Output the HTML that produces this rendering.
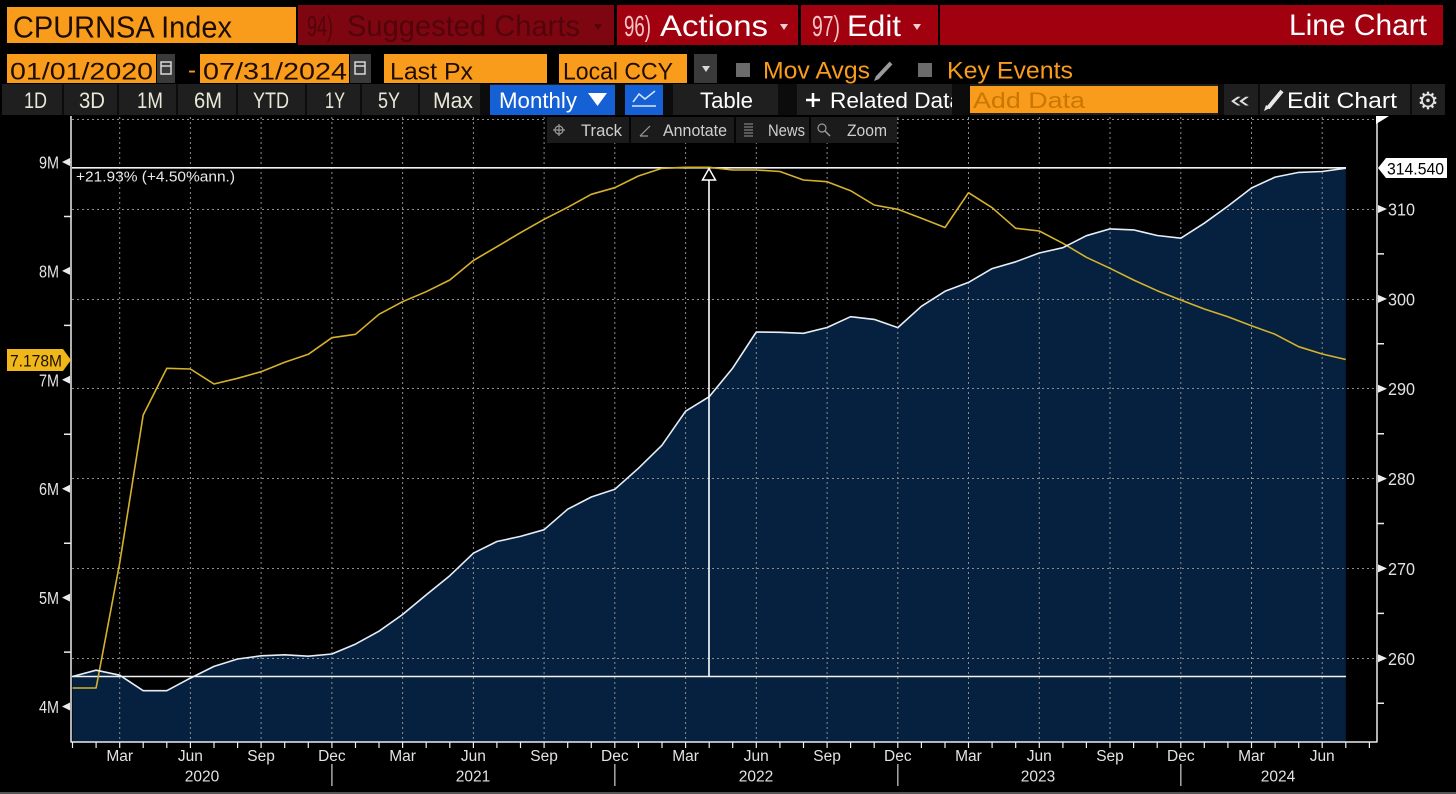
<!DOCTYPE html>
<html><head><meta charset="utf-8"><style>
html,body{margin:0;padding:0;background:#000;width:1456px;height:794px;overflow:hidden}
svg{display:block}
text{font-family:"Liberation Sans",sans-serif}
</style></head><body>
<svg width="1456" height="794" viewBox="0 0 1456 794" xmlns="http://www.w3.org/2000/svg">
<rect x="0" y="0" width="1456" height="794" fill="#000"/>

<!-- ROW 1 -->
<rect x="7" y="7" width="289" height="36" fill="#f99c1c"/>
<text x="13" y="37.5" font-size="31" fill="#1a0d00" textLength="219" lengthAdjust="spacingAndGlyphs">CPURNSA Index</text>
<rect x="298" y="5" width="316" height="40" fill="#7e0610"/>
<text x="307" y="36" font-size="29" fill="#52040b" textLength="26" lengthAdjust="spacingAndGlyphs">94)</text>
<text x="347" y="36" font-size="30" fill="#52040b" textLength="233" lengthAdjust="spacingAndGlyphs">Suggested Charts</text>
<polygon points="594,24 602,24 598,30" fill="#52040b"/>
<rect x="617" y="5" width="181" height="40" fill="#a1000f"/>
<text x="624" y="36" font-size="29" fill="#f3c6c6" textLength="27" lengthAdjust="spacingAndGlyphs">96)</text>
<text x="660" y="36" font-size="30" fill="#ffffff" textLength="108" lengthAdjust="spacingAndGlyphs">Actions</text>
<polygon points="780,24 788,24 784,30" fill="#f0d0d0"/>
<rect x="801" y="5" width="137" height="40" fill="#a1000f"/>
<text x="812" y="36" font-size="29" fill="#f3c6c6" textLength="28" lengthAdjust="spacingAndGlyphs">97)</text>
<text x="847" y="36" font-size="30" fill="#ffffff" textLength="54" lengthAdjust="spacingAndGlyphs">Edit</text>
<polygon points="913,24 921,24 917,30" fill="#f0d0d0"/>
<rect x="940" y="5" width="503" height="40" fill="#a1000f"/>
<text x="1289" y="35" font-size="30" fill="#ffffff" textLength="138" lengthAdjust="spacingAndGlyphs">Line Chart</text>

<!-- ROW 2 -->
<rect x="7" y="54" width="149" height="29" fill="#f99c1c"/>
<text x="10" y="79.5" font-size="24" fill="#1f0e00" textLength="143" lengthAdjust="spacingAndGlyphs">01/01/2020</text>
<rect x="157" y="54" width="18" height="29" fill="#3a3a3a"/>
<rect x="161" y="62" width="10" height="12" fill="none" stroke="#d8d8d8" stroke-width="1.5"/>
<line x1="161" y1="66" x2="171" y2="66" stroke="#d8d8d8" stroke-width="1.5"/>
<text x="188" y="78" font-size="24" fill="#f99c1c">-</text>
<rect x="200" y="54" width="149" height="29" fill="#f99c1c"/>
<text x="203" y="79.5" font-size="24" fill="#1f0e00" textLength="144" lengthAdjust="spacingAndGlyphs">07/31/2024</text>
<rect x="350" y="54" width="21" height="29" fill="#3a3a3a"/>
<rect x="355" y="62" width="10" height="12" fill="none" stroke="#d8d8d8" stroke-width="1.5"/>
<line x1="355" y1="66" x2="365" y2="66" stroke="#d8d8d8" stroke-width="1.5"/>
<rect x="384" y="54" width="163" height="29" fill="#f99c1c"/>
<text x="390" y="79.5" font-size="24" fill="#1f0e00" textLength="83" lengthAdjust="spacingAndGlyphs">Last Px</text>
<rect x="559" y="54" width="128" height="29" fill="#f99c1c"/>
<text x="563" y="79.5" font-size="24" fill="#1f0e00" textLength="110" lengthAdjust="spacingAndGlyphs">Local CCY</text>
<rect x="694" y="54" width="23" height="29" fill="#3a3a3a"/>
<polygon points="702,66 710,66 706,72" fill="#d8d8d8"/>
<rect x="736" y="63" width="14" height="14" fill="#6b6b6b"/>
<text x="763" y="78.5" font-size="24" fill="#f99c1c" textLength="107" lengthAdjust="spacingAndGlyphs">Mov Avgs</text>
<path d="M877 78 L891 63" stroke="#9a9a9a" stroke-width="4"/>
<polygon points="874,81 876,76 879,79" fill="#9a9a9a"/>
<rect x="918" y="63" width="14" height="14" fill="#6b6b6b"/>
<text x="947" y="78.5" font-size="24" fill="#f99c1c" textLength="126" lengthAdjust="spacingAndGlyphs">Key Events</text>

<!-- ROW 3 -->
<rect x="2" y="84" width="1443" height="31" fill="#1f1f1f"/>
<g fill="#0c0c0c">
<rect x="62" y="84" width="2" height="31"/><rect x="117" y="84" width="2" height="31"/>
<rect x="176" y="84" width="2" height="31"/><rect x="236" y="84" width="2" height="31"/>
<rect x="305" y="84" width="2" height="31"/><rect x="360" y="84" width="2" height="31"/>
<rect x="418" y="84" width="2" height="31"/><rect x="480" y="84" width="10" height="31"/>
<rect x="615" y="84" width="10" height="31"/><rect x="663" y="84" width="10" height="31"/>
<rect x="778" y="84" width="19" height="31"/><rect x="952" y="84" width="18" height="31"/>
<rect x="1218" y="84" width="6" height="31"/><rect x="1258" y="84" width="2" height="31"/>
<rect x="1410" y="84" width="2" height="31"/>
</g>
<g font-size="22" fill="#e8e8d8">
<text x="24" y="108" textLength="23" lengthAdjust="spacingAndGlyphs">1D</text>
<text x="79" y="108" textLength="26" lengthAdjust="spacingAndGlyphs">3D</text>
<text x="137" y="108" textLength="26" lengthAdjust="spacingAndGlyphs">1M</text>
<text x="194" y="108" textLength="28" lengthAdjust="spacingAndGlyphs">6M</text>
<text x="253" y="108" textLength="36" lengthAdjust="spacingAndGlyphs">YTD</text>
<text x="325" y="108" textLength="20" lengthAdjust="spacingAndGlyphs">1Y</text>
<text x="378" y="108" textLength="22" lengthAdjust="spacingAndGlyphs">5Y</text>
<text x="433" y="108" textLength="40" lengthAdjust="spacingAndGlyphs">Max</text>
</g>
<rect x="490" y="85" width="125" height="30" fill="#1560d4"/>
<text x="499" y="108" font-size="22" fill="#ffffff" textLength="78" lengthAdjust="spacingAndGlyphs">Monthly</text>
<polygon points="588,93 607,93 597.5,106" fill="#ffffff"/>
<rect x="625" y="85" width="38" height="30" fill="#1560d4"/>
<path d="M633 102 L639 94 L645 99 L655 91" stroke="#d8e6ff" stroke-width="1.5" fill="none"/>
<path d="M632 106 H656" stroke="#d8e6ff" stroke-width="1.5"/>
<text x="700" y="108" font-size="22" fill="#ffffff" textLength="53" lengthAdjust="spacingAndGlyphs">Table</text>
<path d="M806 100 H820 M813 93 V107" stroke="#ffffff" stroke-width="2.5"/>
<text x="830" y="108" font-size="22" fill="#ffffff" textLength="132" lengthAdjust="spacingAndGlyphs" clip-path="url(#clipRel)">Related Data</text>
<defs><clipPath id="clipRel"><rect x="797" y="84" width="155" height="31"/></clipPath></defs>
<rect x="970" y="86" width="248" height="27" fill="#f99c1c"/>
<text x="973" y="108" font-size="22" fill="#c97700" textLength="112" lengthAdjust="spacingAndGlyphs">Add Data</text>
<text x="1230" y="107" font-size="22" fill="#e0e0e0" textLength="20" lengthAdjust="spacingAndGlyphs">«</text>
<path d="M1268 108 L1282 91" stroke="#e8e8e8" stroke-width="4"/>
<polygon points="1264,111 1266,105 1270,108" fill="#e8e8e8"/>
<text x="1287" y="108" font-size="22" fill="#ffffff" textLength="110" lengthAdjust="spacingAndGlyphs">Edit Chart</text>
<text x="1428" y="109" font-size="24" fill="#e0e0e0" text-anchor="middle" style="font-family:'DejaVu Sans',sans-serif">⚙</text>

<!-- PLOT FILL -->
<polygon fill="#05213f" points="72.5,742 72.5,676.5 96.1,670.2 119.7,675.2 143.2,690.7 166.8,690.7 190.4,678.1 214,666.4 237.6,659 261.1,655.8 284.7,654.8 308.3,656.2 331.9,654 355.5,644.1 379,631.2 402.6,614.5 426.2,594.9 449.8,575.7 473.4,553.2 496.9,541.5 520.5,536.4 544.1,529.7 567.7,509.2 591.3,497 614.8,489.3 638.4,468.3 662,445.2 685.6,411.2 709.2,396.7 732.7,368.1 756.3,332 779.9,332.3 803.5,333.3 827.1,327.5 850.6,316.7 874.2,319.4 897.8,327.6 921.4,306.3 945,291.3 968.5,282.4 992.1,268.6 1015.7,261.8 1039.3,253 1062.9,247.7 1086.4,235.7 1110,228.9 1133.6,229.9 1157.2,235.5 1180.8,238.2 1204.3,223.2 1227.9,206.1 1251.5,188 1275.1,177.1 1298.7,172.4 1322.2,171.5 1345.8,168.2 1345.8,742"/>

<!-- GRID -->
<g stroke="#8e8e8e" stroke-width="1" stroke-dasharray="2,3" fill="none">
<path d="M72 119.5H1376M72 209.5H1376M72 299.5H1376M72 388.5H1376M72 478.5H1376M72 568.5H1376M72 658.5H1376"/>
<path d="M119.7 117V742M190.4 117V742M261.1 117V742M331.9 117V742M402.6 117V742M473.4 117V742M544.1 117V742M614.8 117V742M685.6 117V742M756.3 117V742M827.1 117V742M897.8 117V742M968.5 117V742M1039.3 117V742M1110 117V742M1180.8 117V742M1251.5 117V742M1322.2 117V742"/>
</g>

<!-- mini toolbar -->
<rect x="547" y="117" width="350" height="26" fill="#1b1b1b"/>
<rect x="629" y="117" width="2" height="26" fill="#050505"/>
<rect x="734" y="117" width="2" height="26" fill="#050505"/>
<rect x="809" y="117" width="2" height="26" fill="#050505"/>
<circle cx="559" cy="130" r="4" fill="none" stroke="#9a9a9a" stroke-width="1.2"/>
<path d="M553 130H565M559 124V136" stroke="#9a9a9a" stroke-width="1.2"/>
<text x="581" y="136" font-size="17" fill="#cfcfcf" textLength="41" lengthAdjust="spacingAndGlyphs">Track</text>
<path d="M640 136L650 126M640 136H648" stroke="#9a9a9a" stroke-width="1.2"/>
<text x="663" y="136" font-size="17" fill="#cfcfcf" textLength="64" lengthAdjust="spacingAndGlyphs">Annotate</text>
<path d="M744 124H753M744 127H753M744 130H753M744 133H753M744 136H753" stroke="#9a9a9a" stroke-width="1"/>
<text x="768" y="136" font-size="17" fill="#cfcfcf" textLength="37" lengthAdjust="spacingAndGlyphs">News</text>
<circle cx="822" cy="128" r="4" fill="none" stroke="#9a9a9a" stroke-width="1.2"/>
<path d="M825 131L830 136" stroke="#9a9a9a" stroke-width="1.5"/>
<text x="847" y="136" font-size="17" fill="#cfcfcf" textLength="40" lengthAdjust="spacingAndGlyphs">Zoom</text>

<!-- reference lines -->
<path d="M72 167.8H1346M72 676.5H1346" stroke="#f2f2f2" stroke-width="1.6"/>

<!-- yellow series -->
<polyline fill="none" stroke="#d6b22c" stroke-width="1.6" stroke-linejoin="round" points="72.5,688 96.1,688 119.7,563 143.2,415 166.8,368.3 190.4,369 214,384 237.6,378.3 261.1,371.7 284.7,362.3 308.3,354.3 331.9,337.7 355.5,334.3 379,314.3 402.6,301.7 426.2,291.7 449.8,280 473.4,260.5 496.9,246.7 520.5,232.7 544.1,219.3 567.7,207.3 591.3,194.3 614.8,187.7 638.4,176 662,168.3 685.6,167.3 709.2,167.3 732.7,170 756.3,170 779.9,171.5 803.5,180 827.1,181.7 850.6,190.7 874.2,205 897.8,209.3 921.4,218.3 945,227.5 968.5,192.7 992.1,207.7 1015.7,228.3 1039.3,231 1062.9,243.3 1086.4,257.3 1110,268.3 1133.6,280 1157.2,290.7 1180.8,300 1204.3,309 1227.9,316.7 1251.5,325.7 1275.1,334.3 1298.7,346.7 1322.2,354 1345.8,359.5"/>

<!-- white series -->
<polyline fill="none" stroke="#e6edf5" stroke-width="1.6" stroke-linejoin="round" points="72.5,676.5 96.1,670.2 119.7,675.2 143.2,690.7 166.8,690.7 190.4,678.1 214,666.4 237.6,659 261.1,655.8 284.7,654.8 308.3,656.2 331.9,654 355.5,644.1 379,631.2 402.6,614.5 426.2,594.9 449.8,575.7 473.4,553.2 496.9,541.5 520.5,536.4 544.1,529.7 567.7,509.2 591.3,497 614.8,489.3 638.4,468.3 662,445.2 685.6,411.2 709.2,396.7 732.7,368.1 756.3,332 779.9,332.3 803.5,333.3 827.1,327.5 850.6,316.7 874.2,319.4 897.8,327.6 921.4,306.3 945,291.3 968.5,282.4 992.1,268.6 1015.7,261.8 1039.3,253 1062.9,247.7 1086.4,235.7 1110,228.9 1133.6,229.9 1157.2,235.5 1180.8,238.2 1204.3,223.2 1227.9,206.1 1251.5,188 1275.1,177.1 1298.7,172.4 1322.2,171.5 1345.8,168.2"/>

<!-- arrow -->
<line x1="709" y1="180" x2="709" y2="676.5" stroke="#ffffff" stroke-width="1.6"/>
<polygon points="709,168.5 702.5,180 715.5,180" fill="#000" stroke="#ffffff" stroke-width="1.5"/>

<text x="76" y="181.5" font-size="15" fill="#e8e8e8" textLength="159" lengthAdjust="spacingAndGlyphs">+21.93% (+4.50%ann.)</text>

<!-- AXES -->
<g stroke="#ececec" stroke-width="1.5" fill="none">
<path d="M71 116V742.5M1377 116V742.5M71 742H1377"/>
<path d="M64 216.5H71M64 325.4H71M64 434.3H71M64 543.2H71M64 652.1H71"/>
<path d="M1377 253.9H1384M1377 343.8H1384M1377 433.7H1384M1377 523.5H1384M1377 613.4H1384M1377 703.2H1384"/>
<path stroke-width="1.2" d="M72.5 742v6 M96.1 742v6 M119.7 742v6 M143.2 742v6 M166.8 742v6 M190.4 742v6 M214 742v6 M237.6 742v6 M261.1 742v6 M284.7 742v6 M308.3 742v6 M331.9 742v6 M355.5 742v6 M379 742v6 M402.6 742v6 M426.2 742v6 M449.8 742v6 M473.4 742v6 M496.9 742v6 M520.5 742v6 M544.1 742v6 M567.7 742v6 M591.3 742v6 M614.8 742v6 M638.4 742v6 M662 742v6 M685.6 742v6 M709.2 742v6 M732.7 742v6 M756.3 742v6 M779.9 742v6 M803.5 742v6 M827.1 742v6 M850.6 742v6 M874.2 742v6 M897.8 742v6 M921.4 742v6 M945 742v6 M968.5 742v6 M992.1 742v6 M1015.7 742v6 M1039.3 742v6 M1062.9 742v6 M1086.4 742v6 M1110 742v6 M1133.6 742v6 M1157.2 742v6 M1180.8 742v6 M1204.3 742v6 M1227.9 742v6 M1251.5 742v6 M1275.1 742v6 M1298.7 742v6 M1322.2 742v6 M1345.8 742v6 M1369.4 742v6"/>
</g>
<polygon points="1376,116 1389,116 1381,121 1376,124" fill="#ffffff"/>
<!-- left wedges -->
<g fill="#ececec">
<polygon points="62,162 70,158 70,166"/><polygon points="62,270.9 70,266.9 70,274.9"/>
<polygon points="62,379.8 70,375.8 70,383.8"/><polygon points="62,488.7 70,484.7 70,492.7"/>
<polygon points="62,597.6 70,593.6 70,601.6"/><polygon points="62,706.5 70,702.5 70,710.5"/>
<polygon points="1387,209 1378,205 1378,213"/><polygon points="1387,298.9 1378,294.9 1378,302.9"/>
<polygon points="1387,388.7 1378,384.7 1378,392.7"/><polygon points="1387,478.6 1378,474.6 1378,482.6"/>
<polygon points="1387,568.4 1378,564.4 1378,572.4"/><polygon points="1387,658.3 1378,654.3 1378,662.3"/>
</g>
<line x1="70" y1="162" x2="71" y2="162" stroke="#ececec"/>

<g font-size="17.5" fill="#e2e2e2">
<text x="39" y="168.5" textLength="20" lengthAdjust="spacingAndGlyphs">9M</text>
<text x="39" y="277.4" textLength="20" lengthAdjust="spacingAndGlyphs">8M</text>
<text x="39" y="386.3" textLength="20" lengthAdjust="spacingAndGlyphs">7M</text>
<text x="39" y="495.2" textLength="20" lengthAdjust="spacingAndGlyphs">6M</text>
<text x="39" y="604.1" textLength="20" lengthAdjust="spacingAndGlyphs">5M</text>
<text x="39" y="713" textLength="20" lengthAdjust="spacingAndGlyphs">4M</text>
<text x="1388" y="215.5" textLength="27" lengthAdjust="spacingAndGlyphs">310</text>
<text x="1388" y="305.4" textLength="27" lengthAdjust="spacingAndGlyphs">300</text>
<text x="1388" y="395.2" textLength="27" lengthAdjust="spacingAndGlyphs">290</text>
<text x="1388" y="485.1" textLength="27" lengthAdjust="spacingAndGlyphs">280</text>
<text x="1388" y="574.9" textLength="27" lengthAdjust="spacingAndGlyphs">270</text>
<text x="1388" y="664.8" textLength="27" lengthAdjust="spacingAndGlyphs">260</text>
</g>

<!-- value labels -->
<polygon points="1378,168 1386,158 1447,158 1447,178 1386,178" fill="#ffffff"/>
<text x="1387" y="174.5" font-size="17" fill="#000" textLength="57" lengthAdjust="spacingAndGlyphs">314.540</text>
<polygon points="7,349 63,349 71,360 63,371 7,371" fill="#f0b71a"/>
<text x="10" y="366.5" font-size="17" fill="#1a1000" textLength="52" lengthAdjust="spacingAndGlyphs">7.178M</text>

<!-- x labels -->
<g font-size="15.5" fill="#e2e2e2" text-anchor="middle">
<text x="119.7" y="761">Mar</text><text x="190.4" y="761">Jun</text><text x="261.1" y="761">Sep</text><text x="331.9" y="761">Dec</text>
<text x="402.6" y="761">Mar</text><text x="473.4" y="761">Jun</text><text x="544.1" y="761">Sep</text><text x="614.8" y="761">Dec</text>
<text x="685.6" y="761">Mar</text><text x="756.3" y="761">Jun</text><text x="827.1" y="761">Sep</text><text x="897.8" y="761">Dec</text>
<text x="968.5" y="761">Mar</text><text x="1039.3" y="761">Jun</text><text x="1110" y="761">Sep</text><text x="1180.8" y="761">Dec</text>
<text x="1251.5" y="761">Mar</text><text x="1322.2" y="761">Jun</text>
<text x="202" y="781.5">2020</text><text x="473" y="781.5">2021</text><text x="756" y="781.5">2022</text>
<text x="1038" y="781.5">2023</text><text x="1278" y="781.5">2024</text>
</g>
<path d="M331.9 764V786M614.8 764V786M897.8 764V786M1180.8 764V786" stroke="#a8a8a8" stroke-width="1.5"/>
<rect x="0" y="792" width="1456" height="2" fill="#555"/>
</svg>
</body></html>
